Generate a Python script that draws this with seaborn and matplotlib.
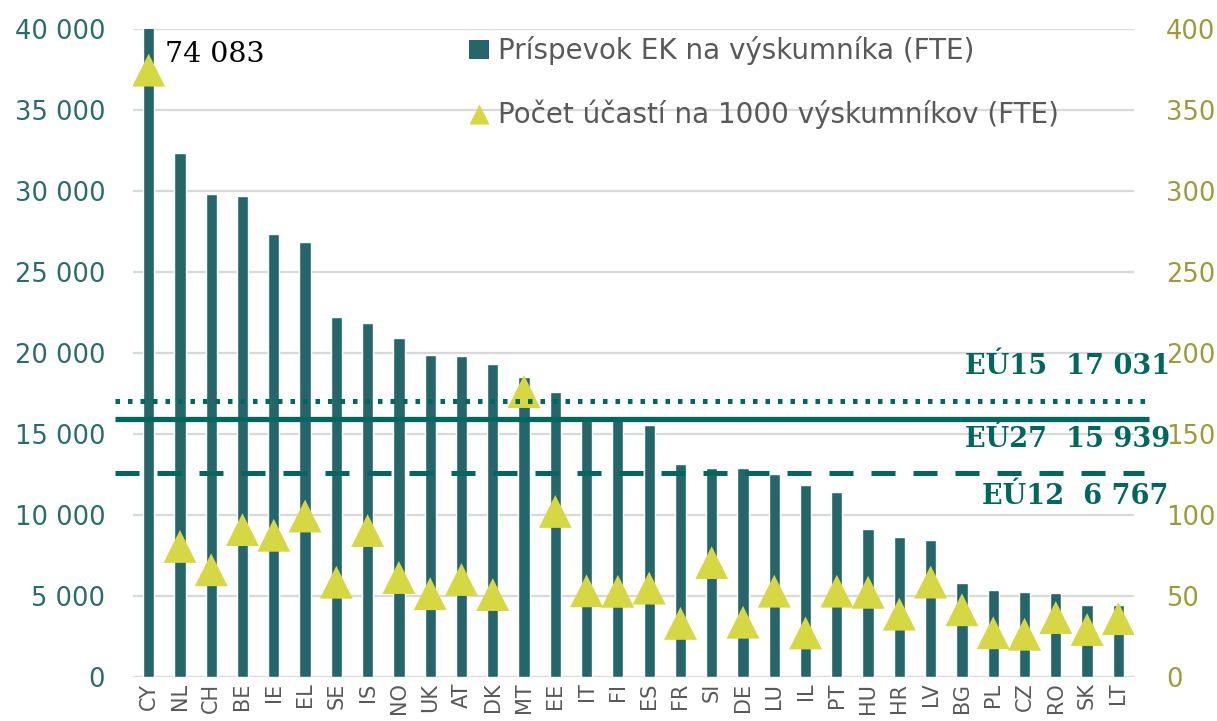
import matplotlib
matplotlib.use("Agg")
import matplotlib.pyplot as plt
import matplotlib.transforms as mtransforms
from matplotlib.lines import Line2D
from matplotlib.patches import Patch
import seaborn as sns
import pandas as pd

countries = ["CY", "NL", "CH", "BE", "IE", "EL", "SE", "IS", "NO", "UK", "AT", "DK", "MT", "EE", "IT",
             "FI", "ES", "FR", "SI", "DE", "LU", "IL", "PT", "HU", "HR", "LV", "BG", "PL", "CZ", "RO",
             "SK", "LT"]
contribution = [74083, 32360, 29830, 29670, 27360, 26830, 22200, 21830, 20930, 19860, 19830, 19300,
                18500, 17570, 15980, 15950, 15530, 13120, 12900, 12900, 12530, 11850, 11440, 9120,
                8650, 8460, 5780, 5360, 5230, 5190, 4460, 4440]
participations = [374.6, 80.6, 66.2, 91.0, 87.5, 99.4, 58.5, 90.4, 61.4, 51.4, 60.2, 50.9, 176.2,
                  102.2, 53.2, 52.9, 54.9, 33.1, 70.6, 33.8, 53.0, 27.2, 53.0, 52.3, 38.8, 58.6,
                  41.5, 27.3, 26.4, 36.7, 29.3, 36.0]
left_ticks = [0, 5000, 10000, 15000, 20000, 25000, 30000, 35000, 40000]
right_ticks = [0, 50, 100, 150, 200, 250, 300, 350, 400]
eu15_value = 17031
eu27_value = 15939
eu12_value = 6767
eu12_line = 12620
series_names = ["Príspevok EK na výskumníka (FTE)", "Počet účastí na 1000 výskumníkov (FTE)"]

df = pd.DataFrame({"country": countries, "contribution": contribution,
                   "participations": participations})

BAR = "#25666B"
LINE = "#00675F"
TRI = "#D5D743"
LEFT_TXT = "#2A6B6E"
RIGHT_TXT = "#9C9A3A"
GREY = "#595959"

sns.set_theme(style="white")
plt.rcParams["font.family"] = ["DejaVu Sans"]

fig = plt.figure(figsize=(12.17, 7.21), dpi=100)
ax = fig.add_axes([133 / 1217, 1 - 677 / 721, (1134 - 133) / 1217, (677 - 29) / 721])

sns.barplot(data=df, x="country", y="contribution", color=BAR, width=0.36, saturation=1,
            ax=ax, zorder=2)
ax.set_ylim(0, 40000)
ax.set_yticks(left_ticks)
ax.set_yticklabels([f"{v:,}".replace(",", " ") for v in left_ticks])
ax.set_xlim(-0.5, len(countries) - 0.5)
ax.set_xlabel("")
ax.set_ylabel("")
ax.yaxis.grid(True, color="#D9D9D9", lw=1.6, zorder=0)
ax.set_axisbelow(True)
for s in ax.spines.values():
    s.set_visible(False)
ax.tick_params(axis="y", length=0, pad=20, labelsize=18.5, labelcolor=LEFT_TXT)
ax.tick_params(axis="x", length=0, pad=4, labelsize=15, labelcolor=GREY, rotation=90)

ax2 = ax.twinx()
sns.scatterplot(data=df, x="country", y="participations", marker="^", s=560, color=TRI,
                edgecolor="none", ax=ax2, zorder=3, legend=False)
ax2.set_ylim(0, 400)
ax2.set_yticks(right_ticks)
ax2.set_yticklabels([str(v) for v in right_ticks])
ax2.set_ylabel("")
for s in ax2.spines.values():
    s.set_visible(False)
ax2.tick_params(axis="y", length=0, pad=23, labelsize=18.5, labelcolor=RIGHT_TXT)

# reference lines drawn over the markers
trans = mtransforms.blended_transform_factory(ax2.transAxes, ax.transData)
x0, x1 = (115 - 133) / 1001, (1152 - 133) / 1001
ax2.plot([x0, x1], [eu15_value, eu15_value], transform=trans, clip_on=False, color=LINE,
         lw=3.6, dashes=(0.9, 1.6), zorder=5)
ax2.plot([x0, x1 - 0.003], [eu27_value, eu27_value], transform=trans, clip_on=False, color=LINE,
         lw=3.8, solid_capstyle="butt", zorder=5)
ax2.plot([x0, x1 - 0.008], [eu12_line, eu12_line], transform=trans, clip_on=False, color=LINE,
         lw=3.6, dashes=(4.8, 3.6), zorder=5)

def fmt(v):
    return f"{v:,}".replace(",", " ")

serif = ["DejaVu Serif"]
fig.text(1170 / 1217, 1 - 367 / 721, f"EÚ15  {fmt(eu15_value)}", ha="right", va="center",
         fontsize=19.5, fontweight="bold", color=LINE, family=serif)
fig.text(1170 / 1217, 1 - 440 / 721, f"EÚ27  {fmt(eu27_value)}", ha="right", va="center",
         fontsize=19.5, fontweight="bold", color=LINE, family=serif)
fig.text(1168 / 1217, 1 - 496 / 721, f"EÚ12  {fmt(eu12_value)}", ha="right", va="center",
         fontsize=19.5, fontweight="bold", color=LINE, family=serif)

ax2.annotate(fmt(contribution[0]), xy=(0, 384), xytext=(11.5, 0), textcoords="offset points",
             ha="left", va="center", fontsize=20.5, color="black", family=serif)

handles = [Patch(facecolor=BAR, edgecolor="none"),
           Line2D([], [], marker="^", linestyle="none", markersize=14, color=TRI,
                  markeredgecolor="none")]
fig.legend(handles, series_names, loc="upper left", bbox_to_anchor=(458 / 1217, 1 - 25 / 721),
           frameon=False, fontsize=20, labelcolor=GREY, labelspacing=1.25, handlelength=0.7,
           handletextpad=0.35, handleheight=0.7, borderaxespad=0)

fig.savefig("out.png", dpi=100)
